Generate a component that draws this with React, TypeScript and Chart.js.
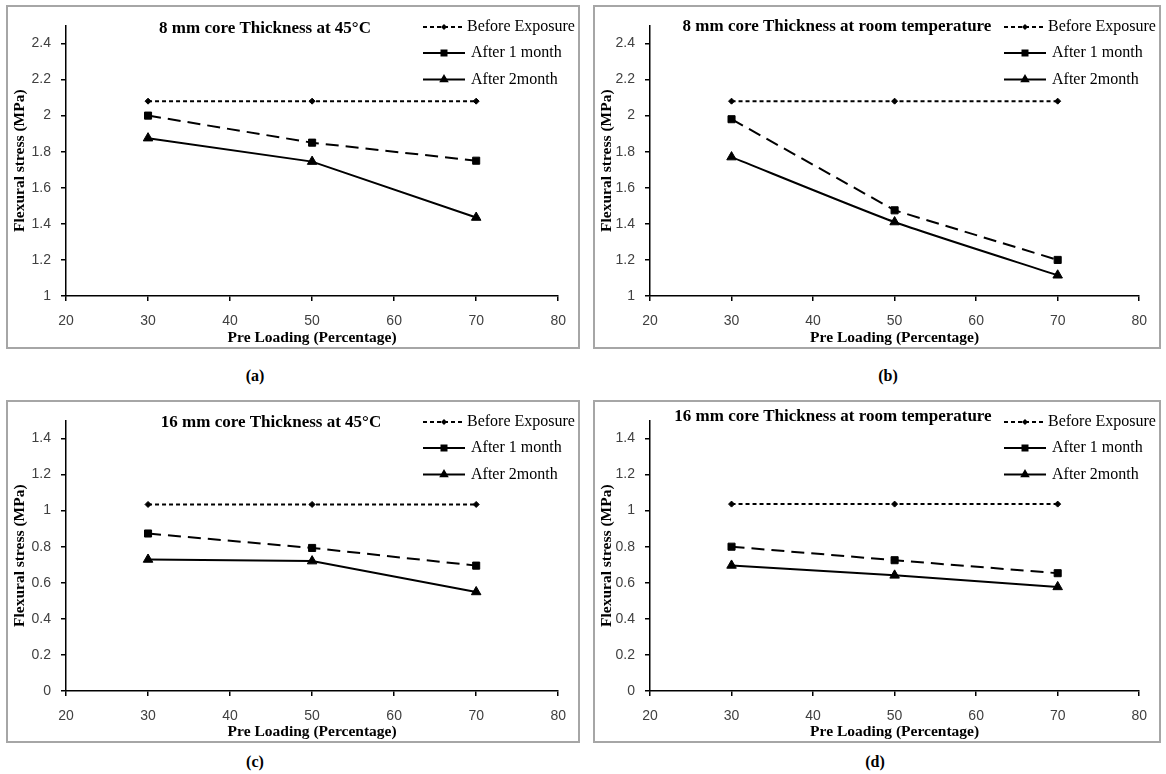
import React, { useEffect, useRef } from "react";
import { Chart, registerables } from "chart.js";

Chart.register(...registerables);

// ---------- data ----------
const preLoading = [30, 50, 70];
const xTicks = [20, 30, 40, 50, 60, 70, 80];
const yTicks8mm = [1, 1.2, 1.4, 1.6, 1.8, 2, 2.2, 2.4];
const yTicks16mm = [0, 0.2, 0.4, 0.6, 0.8, 1, 1.2, 1.4];
const seriesNames = ["Before Exposure", "After 1 month", "After 2month"];
const panelTitles = [
  "8 mm core Thickness at 45°C",
  "8 mm core Thickness at room temperature",
  "16 mm core Thickness at 45°C",
  "16 mm core Thickness at room temperature",
];
const panelTags = ["(a)", "(b)", "(c)", "(d)"];
const xAxisTitle = "Pre Loading (Percentage)";
const yAxisTitle = "Flexural stress (MPa)";

const a_before = [2.08, 2.08, 2.08];
const a_month1 = [2.0, 1.85, 1.75];
const a_month2 = [1.875, 1.745, 1.435];

const b_before = [2.08, 2.08, 2.08];
const b_month1 = [1.98, 1.475, 1.2];
const b_month2 = [1.77, 1.41, 1.115];

const c_before = [1.034, 1.034, 1.034];
const c_month1 = [0.873, 0.793, 0.695];
const c_month2 = [0.729, 0.72, 0.549];

const d_before = [1.036, 1.036, 1.036];
const d_month1 = [0.8, 0.725, 0.653];
const d_month2 = [0.696, 0.641, 0.577];

// ---------- layout / styles ----------
const SERIF = '"Liberation Serif", "Times New Roman", serif';
const SANS = '"Liberation Sans", Arial, sans-serif';

type Layout = {
  left: number; top: number; width: number; height: number;
  axisW: number; axisH: number; padTop: number; padRight: number;
  titleX: number; titleY: number;
  tagX: number; tagY: number;
};

const layouts: Layout[] = [
  { left: 6, top: 5, width: 574, height: 344, axisW: 58, axisH: 51, padTop: 17, padRight: 17, titleX: 257, titleY: 22, tagX: 255, tagY: 377 },
  { left: 593, top: 5, width: 568, height: 344, axisW: 55, axisH: 51, padTop: 17, padRight: 18, titleX: 242, titleY: 20, tagX: 888, tagY: 377 },
  { left: 6, top: 400, width: 574, height: 343, axisW: 58, axisH: 50, padTop: 16, padRight: 16, titleX: 263, titleY: 21, tagX: 255, tagY: 763 },
  { left: 593, top: 400, width: 568, height: 343, axisW: 55, axisH: 50, padTop: 16, padRight: 18, titleX: 238, titleY: 15, tagX: 875, tagY: 763 },
];

const legendRows = [20, 46, 72.5];

type PanelProps = {
  idx: number;
  series: number[][];
  yTicks: number[];
  yMax: number;
  smooth: boolean;
};

function drawMarker(ctx: CanvasRenderingContext2D, kind: number, x: number, y: number) {
  ctx.beginPath();
  if (kind === 0) {
    const r = 3;
    ctx.moveTo(x, y - r);
    ctx.lineTo(x + r, y);
    ctx.lineTo(x, y + r);
    ctx.lineTo(x - r, y);
  } else if (kind === 1) {
    const s = 3.5;
    ctx.rect(x - s, y - s, 2 * s, 2 * s);
  } else {
    const r = 5.5;
    ctx.moveTo(x, y - r);
    ctx.lineTo(x + r * 0.866, y + r * 0.5);
    ctx.lineTo(x - r * 0.866, y + r * 0.5);
  }
  ctx.closePath();
  ctx.fill();
}

function Panel({ idx, series, yTicks, yMax, smooth }: PanelProps) {
  const ref = useRef<HTMLCanvasElement | null>(null);
  const L = layouts[idx];
  const cw = L.width - 4;
  const ch = L.height - 4;

  useEffect(() => {
    if (!ref.current) return;
    const title = panelTitles[idx];
    const overlay = {
      id: "overlay" + idx,
      afterDraw(chart: any) {
        const ctx: CanvasRenderingContext2D = chart.ctx;
        const W = chart.width;
        ctx.save();
        ctx.fillStyle = "#000";
        ctx.strokeStyle = "#000";
        ctx.font = `bold 17px ${SERIF}`;
        ctx.textAlign = "center";
        ctx.textBaseline = "middle";
        ctx.fillText(title, L.titleX, L.titleY);
        // legend
        for (let i = 0; i < seriesNames.length; i++) {
          const y = legendRows[i];
          ctx.lineWidth = 2;
          ctx.setLineDash(i === 0 ? [4, 3] : []);
          ctx.beginPath();
          ctx.moveTo(W - 155, y);
          ctx.lineTo(W - 113, y);
          ctx.stroke();
          ctx.setLineDash([]);
          drawMarker(ctx, i, W - 134, y);
          ctx.font = `16px ${SERIF}`;
          ctx.textAlign = "left";
          ctx.fillText(seriesNames[i], i === 0 ? W - 111 : W - 107, y);
        }
        ctx.restore();
      },
    };

    const styles = [
      { borderDash: [4, 3], pointStyle: "rectRot", pointRadius: 3 },
      { borderDash: [13, 7], pointStyle: "rect", pointRadius: 5 },
      { borderDash: [], pointStyle: "triangle", pointRadius: 5.5 },
    ];

    const datasets = series.map((vals, i) => ({
      label: seriesNames[i],
      data: preLoading.map((x, j) => ({ x, y: vals[j] })),
      borderColor: "#000",
      backgroundColor: "#000",
      pointBackgroundColor: "#000",
      pointBorderColor: "#000",
      pointBorderWidth: 1,
      borderWidth: 2,
      tension: smooth && i === 2 ? 0.2 : 0,
      fill: false,
      ...styles[i],
    }));

    const tickFont = { family: SANS, size: 14 };
    const titleFont = { family: SERIF, size: 15.5, weight: "bold" as const };

    const chart = new Chart(ref.current, {
      type: "line",
      data: { datasets: datasets as any },
      options: {
        animation: false,
        responsive: false,
        maintainAspectRatio: false,
        devicePixelRatio: 1,
        layout: { padding: { top: L.padTop, right: L.padRight, left: 0, bottom: 0 } },
        plugins: { legend: { display: false }, tooltip: { enabled: false }, title: { display: false } },
        scales: {
          x: {
            type: "linear",
            min: 20,
            max: 80,
            afterBuildTicks: (s: any) => { s.ticks = xTicks.map((v) => ({ value: v })); },
            afterFit: (s: any) => { s.height = L.axisH; },
            grid: { display: true, drawOnChartArea: false, drawTicks: true, tickLength: 5, color: "#000", lineWidth: 1.5 },
            border: { display: true, color: "#000", width: 1.5 },
            ticks: { font: tickFont, color: "#404040", padding: 12, maxRotation: 0, autoSkip: false, callback: (v: any) => String(v) },
            title: { display: true, text: xAxisTitle, font: titleFont, color: "#000", padding: { top: 0, bottom: 0 } },
          },
          y: {
            type: "linear",
            min: yTicks[0],
            max: yMax,
            afterBuildTicks: (s: any) => { s.ticks = yTicks.map((v) => ({ value: v })); },
            afterFit: (s: any) => { s.width = L.axisW; },
            grid: { display: true, drawOnChartArea: false, drawTicks: true, tickLength: 5, color: "#000", lineWidth: 1.5 },
            border: { display: true, color: "#000", width: 1.5 },
            ticks: { font: tickFont, color: "#404040", padding: 10, autoSkip: false, callback: (v: any) => String(v) },
            title: { display: true, text: yAxisTitle, font: titleFont, color: "#000", padding: { top: 3, bottom: 0 } },
          },
        },
      },
      plugins: [overlay],
    } as any);
    return () => chart.destroy();
  }, []);

  return (
    <>
      <div
        style={{
          position: "absolute",
          left: L.left,
          top: L.top,
          width: L.width,
          height: L.height,
          boxSizing: "border-box",
          border: "2px solid #a6a6a6",
          background: "#fff",
        }}
      >
        <canvas ref={ref} width={cw} height={ch} style={{ display: "block", width: cw, height: ch }} />
      </div>
      <div
        style={{
          position: "absolute",
          left: L.tagX - 30,
          top: L.tagY - 10,
          width: 60,
          height: 20,
          lineHeight: "20px",
          textAlign: "center",
          font: `bold 16px ${SERIF}`,
          color: "#000",
        }}
      >
        {panelTags[idx]}
      </div>
    </>
  );
}

export default function App() {
  return (
    <div style={{ position: "absolute", left: 0, top: 0, width: 1166, height: 774, background: "#fff", overflow: "hidden" }}>
      <Panel idx={0} series={[a_before, a_month1, a_month2]} yTicks={yTicks8mm} yMax={2.5} smooth={false} />
      <Panel idx={1} series={[b_before, b_month1, b_month2]} yTicks={yTicks8mm} yMax={2.5} smooth={true} />
      <Panel idx={2} series={[c_before, c_month1, c_month2]} yTicks={yTicks16mm} yMax={1.5} smooth={false} />
      <Panel idx={3} series={[d_before, d_month1, d_month2]} yTicks={yTicks16mm} yMax={1.5} smooth={false} />
    </div>
  );
}
